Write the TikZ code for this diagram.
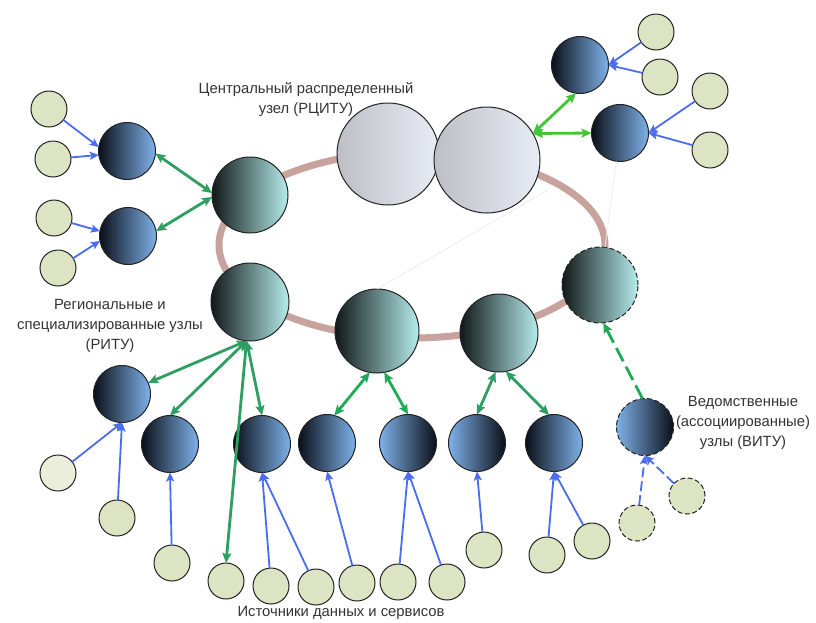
\documentclass[tikz,border=0pt]{standalone}
\usepackage{fontspec}
\setmainfont{Liberation Sans}
\usetikzlibrary{arrows.meta}
\definecolor{srcfill}{HTML}{DDE4C3}
\definecolor{srcfillB}{HTML}{EAEEDB}
\definecolor{dk}{HTML}{0A0F18}
\definecolor{lb}{HTML}{7FB2EA}
\definecolor{tk}{HTML}{111818}
\definecolor{tl}{HTML}{B6ECEC}
\definecolor{bgL}{HTML}{BDBFC5}
\definecolor{bgR}{HTML}{E8ECF4}
\definecolor{ringc}{HTML}{C8A29D}
\definecolor{grn}{HTML}{2E9E62}
\definecolor{grnB}{HTML}{1FAA55}
\definecolor{lime}{HTML}{3FC832}
\definecolor{blu}{HTML}{4A6CF0}
\definecolor{txtc}{HTML}{333333}
\definecolor{edge}{HTML}{222222}
\begin{document}
\begin{tikzpicture}[x=1pt,y=-1pt]
\tikzset{
  src/.style={circle, draw=edge, line width=1pt, fill=srcfill, minimum size=36pt, inner sep=0pt, outer sep=0pt},
  dnode/.style={circle, draw=edge, line width=1pt, minimum size=57pt, inner sep=0pt, outer sep=0pt, left color=dk, right color=lb},
  dnoder/.style={circle, draw=edge, line width=1pt, minimum size=57pt, inner sep=0pt, outer sep=0pt, left color=lb, right color=dk},
  rnode/.style={circle, draw=edge, line width=1pt, inner sep=0pt, outer sep=0pt, left color=tk, right color=tl},
  bignode/.style={circle, draw=edge, line width=1pt, inner sep=0pt, outer sep=0pt, left color=bgL, right color=bgR},
  dsh/.style={dash pattern=on 5pt off 2.5pt},
  garr/.style={draw=grn, line width=2.8pt, arrows={Stealth[length=10pt,width=9pt,inset=2pt]-Stealth[length=10pt,width=9pt,inset=2pt]}},
  barr/.style={draw=blu, line width=1.8pt, arrows={-Stealth[length=9pt,width=8pt,inset=2pt]}},
  faint/.style={draw=black!7, line width=0.8pt},
  lbl/.style={font=\fontsize{14.8}{20}\selectfont, text=txtc, align=center, inner sep=0pt}
}
\useasboundingbox (0,0) rectangle (816,622);
\fill[white] (0,0) rectangle (816,622);

% ring
\draw[ringc, line width=7pt] (412,245) ellipse [x radius=193, y radius=93];

% main nodes
\node[bignode, minimum size=102pt] (C1) at (388,154) {};
\node[bignode, minimum size=106pt] (C2) at (487,160) {};
\node[rnode, minimum size=76pt] (R1) at (250,195) {};
\node[rnode, minimum size=78pt] (R2) at (250,302) {};
\node[rnode, minimum size=84pt] (N1) at (377,331) {};
\node[rnode, minimum size=78pt] (N2) at (499,333) {};
\node[rnode, dsh, minimum size=76pt] (RN) at (600,285) {};

\node[dnode] (D1) at (127,151) {};
\node[dnode] (D2) at (128,236) {};
\node[dnode] (D3) at (580,65) {};
\node[dnode] (D4) at (620,133) {};

\node[dnode] (L1) at (122,394) {};
\node[dnode] (L2) at (170,444) {};
\node[dnode] (L3) at (262,444) {};
\node[dnode] (L4) at (327,443) {};
\node[dnoder] (L5) at (408,443) {};
\node[dnoder] (L6) at (477,443) {};
\node[dnode] (L7) at (554,443) {};
\node[dnoder, dsh] (V) at (645,427) {};

% sources
\node[src] (a1) at (49,109) {};
\node[src] (a2) at (53,159) {};
\node[src] (a3) at (54,218) {};
\node[src] (a4) at (58,268) {};
\node[src] (t1) at (656,32) {};
\node[src] (t2) at (660,77) {};
\node[src] (t3) at (710,91) {};
\node[src] (t4) at (710,150) {};
\node[src, fill=srcfillB] (b1) at (58,473) {};
\node[src] (b2) at (117,518) {};
\node[src] (b3) at (172,563) {};
\node[src] (b4) at (226,581) {};
\node[src] (b5) at (271,586) {};
\node[src] (b6) at (316,587) {};
\node[src] (b7) at (357,583) {};
\node[src] (b8) at (398,582) {};
\node[src] (b9) at (447,582) {};
\node[src] (b10) at (484,550) {};
\node[src] (b11) at (547,555) {};
\node[src] (b12) at (592,541) {};
\node[src, dsh] (v1) at (637,523) {};
\node[src, dsh] (v2) at (687,496) {};

% faint lines
\coordinate (f1) at (548,190);
\draw[faint] (N1.north) -- (f1);
\draw[faint] (D4) -- (RN);

% green connectors
\draw[garr] (D1.-5) -- (R1.177);
\draw[garr] (D2.10) -- (R1.183);
\draw[garr] (R2.-95) -- (L1);
\draw[garr] (R2.-95) -- (L2.north);
\draw[garr] (R2.-95) -- (L3.north);
\draw[garr] (R2.-95) -- (b4.north);
\draw[garr, draw=grnB] (N1.-100) -- (L4.75);
\draw[garr, draw=grnB] (N1.-80) -- (L5.north);
\draw[garr] (N2.-95) -- (L6.north);
\draw[garr] (N2.-80) -- (L7.100);
\draw[garr, draw=lime] (C2.30) -- (D3.-98);
\draw[garr, draw=lime] (C2.30) -- (D4.west);
\draw[draw=grnB, line width=2.8pt, dash pattern=on 15pt off 6pt, arrows={-Stealth[length=10pt,width=9pt,inset=2pt]}] (V.95) -- (RN.-85);

% blue connectors
\draw[barr] (a1) -- (D1.172);
\draw[barr] (a2) -- (D1.188);
\draw[barr] (a3) -- (D2.170);
\draw[barr] (a4) -- (D2.190);
\draw[barr] (t1) -- (D3.east);
\draw[barr] (t2) -- (D3.east);
\draw[barr] (t3) -- (D4.east);
\draw[barr] (t4) -- (D4.east);
\draw[barr] (b1) -- (L1.south);
\draw[barr] (b2) -- (L1.south);
\draw[barr] (b3) -- (L2.south);
\draw[barr] (b5) -- (L3.south);
\draw[barr] (b6) -- (L3.south);
\draw[barr] (b7) -- (L4.south);
\draw[barr] (b8) -- (L5.south);
\draw[barr] (b9) -- (L5.south);
\draw[barr] (b10) -- (L6.south);
\draw[barr] (b11) -- (L7.south);
\draw[barr] (b12) -- (L7.south);
\draw[barr, dash pattern=on 10pt off 4pt] (v1) -- (V.south);
\draw[barr, dash pattern=on 10pt off 4pt] (v2) -- (V.south);

% labels
\node[lbl] (tC) at (306,100) {Центральный распределенный\\узел (РЦИТУ)};
\node[lbl] (tR) at (110,326) {Региональные и\\специализированные узлы\\(РИТУ)};
\node[lbl] (tV) at (743,423) {Ведомственные\\(ассоциированные)\\узлы (ВИТУ)};
\node[lbl] (tS) at (341,613) {Источники данных и сервисов};
\end{tikzpicture}
\end{document}
